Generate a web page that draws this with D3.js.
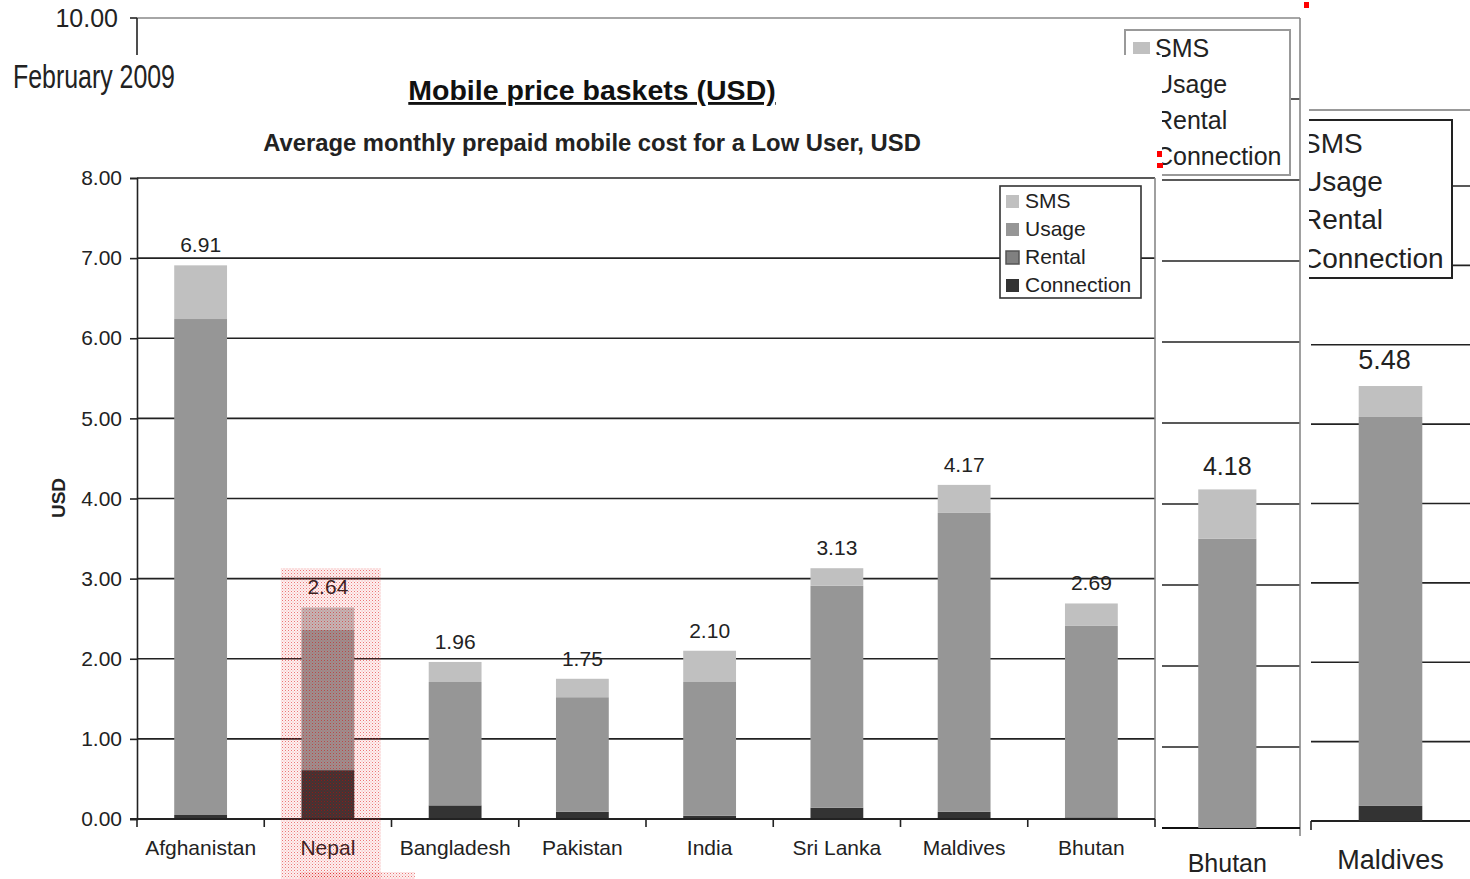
<!DOCTYPE html>
<html>
<head>
<meta charset="utf-8">
<script src="https://cdn.jsdelivr.net/npm/d3@7"></script>
<style>
  body { margin: 0; background: #fff; }
  svg { display: block; font-family: "Liberation Sans", Arial, sans-serif; }
</style>
</head>
<body>
<svg id="chart" width="1470" height="879"></svg>
<script>
// main chart data (USD per month)
var categories = ["Afghanistan", "Nepal", "Bangladesh", "Pakistan", "India", "Sri Lanka", "Maldives", "Bhutan"];
var connection = [0.05, 0.61, 0.17, 0.09, 0.04, 0.14, 0.09, 0.02];
var rental     = [0, 0, 0, 0, 0, 0, 0, 0];
var usage      = [6.19, 1.75, 1.54, 1.43, 1.67, 2.77, 3.73, 2.39];
var sms        = [0.67, 0.28, 0.25, 0.23, 0.39, 0.22, 0.35, 0.28];
var totalLabels = ["6.91", "2.64", "1.96", "1.75", "2.10", "3.13", "4.17", "2.69"];
var yTicks = [0, 1, 2, 3, 4, 5, 6, 7, 8];

// background chart (only Bhutan visible)
var bgCategories = ["Bhutan"];
var bgConnection = [0];
var bgUsage = [3.57];
var bgSms = [0.61];
var bgLabels = ["4.18"];
var bgTicks = [1, 2, 3, 4, 5, 6, 7, 8, 9, 10];

// right-hand panel (only Maldives visible)
var mvCategories = ["Maldives"];
var mvConnection = [0.19];
var mvUsage = [4.90];
var mvSms = [0.39];
var mvLabels = ["5.48"];
var mvTicks = [1, 2, 3, 4, 5, 6, 7, 8];

var seriesNames = ["SMS", "Usage", "Rental", "Connection"];
var colors = { SMS: "#c0c0c0", Usage: "#969696", Rental: "#808080", Connection: "#333333" };

var svg = d3.select("#chart");

function rows(cats, conn, rent, use, sm) {
	return cats.map(function(c, i) {
		return { cat: c, Connection: conn[i], Rental: rent ? rent[i] : 0, Usage: use[i], SMS: sm[i] };
	});
}
var stackKeys = ["Connection", "Rental", "Usage", "SMS"];

function drawBars(g, data, x, y, frac) {
	var stacked = d3.stack().keys(stackKeys)(data);
	var bw = x.step() * frac;
	g.selectAll("g.series").data(stacked).enter().append("g")
		.attr("fill", function(s) { return colors[s.key]; })
		.selectAll("rect").data(function(s) { return s; }).enter().append("rect")
		.attr("x", function(d) { return x(d.data.cat) + x.bandwidth() / 2 - bw / 2; })
		.attr("y", function(d) { return y(d[1]); })
		.attr("width", bw)
		.attr("height", function(d) { return Math.max(0, y(d[0]) - y(d[1])); });
}

/* ---------- background chart, 0..10 ---------- */
var bg = svg.append("g");
var yBg = d3.scaleLinear().domain([0, 10]).range([828, 18]);
var xBg = d3.scaleBand().domain(categories).range([137, 1300]).padding(0);

bg.selectAll("line.grid").data(bgTicks.slice(0, -1)).enter().append("line")
	.attr("x1", 137).attr("x2", 1300)
	.attr("y1", function(d) { return yBg(d); }).attr("y2", function(d) { return yBg(d); })
	.attr("stroke", "#222").attr("stroke-width", 1.6);
bg.append("line").attr("x1", 137).attr("x2", 1300).attr("y1", yBg(10)).attr("y2", yBg(10))
	.attr("stroke", "#888").attr("stroke-width", 1.6);
bg.append("line").attr("x1", 1300).attr("x2", 1300).attr("y1", yBg(10)).attr("y2", 836)
	.attr("stroke", "#888").attr("stroke-width", 1.6);
bg.append("line").attr("x1", 137).attr("x2", 1300).attr("y1", yBg(0)).attr("y2", yBg(0))
	.attr("stroke", "#111").attr("stroke-width", 2);
bg.append("line").attr("x1", 137).attr("x2", 137).attr("y1", yBg(10)).attr("y2", yBg(0))
	.attr("stroke", "#222").attr("stroke-width", 1.6);
bg.append("line").attr("x1", 130).attr("x2", 137).attr("y1", yBg(10)).attr("y2", yBg(10))
	.attr("stroke", "#222").attr("stroke-width", 1.6);
bg.append("text").attr("x", 118).attr("y", yBg(10)).attr("dy", "0.35em")
	.attr("text-anchor", "end").attr("font-size", 25).attr("fill", "#222").text("10.00");

drawBars(bg, rows(bgCategories, bgConnection, null, bgUsage, bgSms), xBg, yBg, 0.4);
bg.selectAll("text.val").data(bgCategories).enter().append("text")
	.attr("x", function(c) { return xBg(c) + xBg.bandwidth() / 2; })
	.attr("y", function(c, i) { return yBg(bgConnection[i] + bgUsage[i] + bgSms[i]) - 14; })
	.attr("text-anchor", "middle").attr("font-size", 25).attr("fill", "#222")
	.text(function(c, i) { return bgLabels[i]; });
bg.selectAll("text.cat").data(bgCategories).enter().append("text")
	.attr("x", function(c) { return xBg(c) + xBg.bandwidth() / 2; })
	.attr("y", 872).attr("text-anchor", "middle").attr("font-size", 25).attr("fill", "#222")
	.text(function(c) { return c; });

// background legend
var bgLeg = bg.append("g").attr("transform", "translate(1125,30)");
bgLeg.append("rect").attr("width", 165).attr("height", 145).attr("fill", "#fff")
	.attr("stroke", "#999").attr("stroke-width", 2);
seriesNames.forEach(function(n, i) {
	var row = bgLeg.append("g").attr("transform", "translate(0," + (18 + i * 36) + ")");
	row.append("rect").attr("x", 8).attr("y", -6).attr("width", 17).attr("height", 12).attr("fill", colors[n]);
	row.append("text").attr("x", 30).attr("dy", "0.35em").attr("font-size", 25).attr("fill", "#222").text(n);
});

/* ---------- main chart, drawn over the background ---------- */
svg.append("rect").attr("x", 0).attr("y", 55).attr("width", 1162).attr("height", 824).attr("fill", "#fff");

svg.append("text").attr("x", 13).attr("y", 88).attr("font-size", 33).attr("fill", "#222")
	.attr("transform", "translate(13,0) scale(0.755,1) translate(-13,0)")
	.text("February 2009");

var main = svg.append("g");
var y = d3.scaleLinear().domain([0, 8]).range([819, 178]);
var x = d3.scaleBand().domain(categories).range([137, 1155]).padding(0);

main.append("text").attr("x", 592).attr("y", 100).attr("text-anchor", "middle")
	.attr("font-size", 28.5).attr("font-weight", "bold").attr("fill", "#111")
	.attr("text-decoration", "underline").text("Mobile price baskets (USD)");
main.append("text").attr("x", 592).attr("y", 151).attr("text-anchor", "middle")
	.attr("font-size", 23.8).attr("font-weight", "bold").attr("fill", "#222")
	.text("Average monthly prepaid mobile cost for a Low User, USD");

main.selectAll("line.grid").data(yTicks.slice(1)).enter().append("line")
	.attr("x1", 137).attr("x2", 1155)
	.attr("y1", function(d) { return y(d); }).attr("y2", function(d) { return y(d); })
	.attr("stroke", "#222").attr("stroke-width", 1.6);
main.append("line").attr("x1", 1155).attr("x2", 1155).attr("y1", y(8)).attr("y2", y(0))
	.attr("stroke", "#888").attr("stroke-width", 1.6);

var yAxis = main.append("g").attr("transform", "translate(137,0)")
	.call(d3.axisLeft(y).tickValues(yTicks).tickFormat(d3.format(".2f")).tickSize(7).tickPadding(8));
yAxis.select(".domain").attr("stroke", "#222").attr("stroke-width", 1.6);
yAxis.selectAll(".tick line").attr("stroke", "#222").attr("stroke-width", 1.6);
yAxis.selectAll(".tick text").attr("font-size", 21).attr("fill", "#222")
	.attr("font-family", "Liberation Sans, Arial, sans-serif");

main.append("text").attr("transform", "translate(65,498) rotate(-90)")
	.attr("text-anchor", "middle").attr("font-size", 19).attr("font-weight", "bold")
	.attr("fill", "#222").text("USD");

drawBars(main, rows(categories, connection, rental, usage, sms), x, y, 0.415);

main.selectAll("text.val").data(categories).enter().append("text")
	.attr("x", function(c) { return x(c) + x.bandwidth() / 2; })
	.attr("y", function(c, i) { return y(connection[i] + rental[i] + usage[i] + sms[i]) - 13; })
	.attr("text-anchor", "middle").attr("font-size", 21).attr("fill", "#222")
	.text(function(c, i) { return totalLabels[i]; });

// x axis: ticks between categories
main.append("line").attr("x1", 130).attr("x2", 1155).attr("y1", y(0)).attr("y2", y(0))
	.attr("stroke", "#222").attr("stroke-width", 2);
main.selectAll("line.xtick").data(categories.concat(["end"])).enter().append("line")
	.attr("x1", function(c) { return c === "end" ? 1155 : x(c); })
	.attr("x2", function(c) { return c === "end" ? 1155 : x(c); })
	.attr("y1", y(0)).attr("y2", y(0) + 8)
	.attr("stroke", "#222").attr("stroke-width", 1.6);
main.selectAll("text.cat").data(categories).enter().append("text")
	.attr("x", function(c) { return x(c) + x.bandwidth() / 2; })
	.attr("y", 848).attr("dy", "0.35em").attr("text-anchor", "middle")
	.attr("font-size", 21).attr("fill", "#222").text(function(c) { return c; });

// legend
var leg = main.append("g").attr("transform", "translate(1000,186)");
leg.append("rect").attr("width", 141).attr("height", 112).attr("fill", "#fff")
	.attr("stroke", "#333").attr("stroke-width", 1.6);
seriesNames.forEach(function(n, i) {
	var row = leg.append("g").attr("transform", "translate(0," + (15 + i * 28) + ")");
	row.append("rect").attr("x", 6).attr("y", -6).attr("width", 13).attr("height", 13)
		.attr("fill", colors[n]).attr("stroke", n === "Rental" ? "#555" : "none").attr("stroke-width", 1.5);
	row.append("text").attr("x", 25).attr("dy", "0.35em").attr("font-size", 21).attr("fill", "#222").text(n);
});

// Nepal highlight (red dotted screen)
var defs = svg.append("defs");
var pat = defs.append("pattern").attr("id", "dots").attr("width", 3).attr("height", 3)
	.attr("patternUnits", "userSpaceOnUse");
pat.append("rect").attr("width", 3).attr("height", 3).attr("fill", "rgba(230,60,60,0.08)");
pat.append("rect").attr("width", 1).attr("height", 1).attr("fill", "rgba(220,0,0,0.5)");
pat.append("rect").attr("x", 1.5).attr("y", 1.5).attr("width", 1).attr("height", 1).attr("fill", "rgba(220,0,0,0.3)");
main.append("rect").attr("x", x("Nepal") + x.bandwidth() / 2 - 47).attr("y", 568)
	.attr("width", 100).attr("height", 311).attr("fill", "url(#dots)");
main.append("rect").attr("x", x("Nepal") + x.bandwidth() / 2 - 28).attr("y", 872)
	.attr("width", 115).attr("height", 7).attr("fill", "url(#dots)");

/* ---------- right-hand Maldives panel ---------- */
svg.append("rect").attr("x", 1305).attr("y", 110).attr("width", 165).attr("height", 769).attr("fill", "#fff");
defs.append("clipPath").attr("id", "mvclip").append("rect")
	.attr("x", 1309).attr("y", 100).attr("width", 170).attr("height", 779);
var mv = svg.append("g").attr("clip-path", "url(#mvclip)");
var yMv = d3.scaleLinear().domain([0, 8]).range([821, 186]);
var xMv = d3.scaleBand().domain(mvCategories).range([1311, 1470]).padding(0);

mv.append("line").attr("x1", 1305).attr("x2", 1470).attr("y1", 110).attr("y2", 110)
	.attr("stroke", "#999").attr("stroke-width", 2);
mv.selectAll("line.grid").data(mvTicks).enter().append("line")
	.attr("x1", 1311).attr("x2", 1470)
	.attr("y1", function(d) { return yMv(d); }).attr("y2", function(d) { return yMv(d); })
	.attr("stroke", "#222").attr("stroke-width", 1.6);
mv.append("line").attr("x1", 1311).attr("x2", 1470).attr("y1", yMv(0)).attr("y2", yMv(0))
	.attr("stroke", "#222").attr("stroke-width", 2);
mv.append("line").attr("x1", 1311).attr("x2", 1311).attr("y1", yMv(0)).attr("y2", yMv(0) + 9)
	.attr("stroke", "#222").attr("stroke-width", 1.6);

drawBars(mv, rows(mvCategories, mvConnection, null, mvUsage, mvSms), xMv, yMv, 0.4);
mv.selectAll("text.val").data(mvCategories).enter().append("text")
	.attr("x", function(c) { return xMv(c) + xMv.bandwidth() / 2 - 6; })
	.attr("y", function(c, i) { return yMv(mvConnection[i] + mvUsage[i] + mvSms[i]) - 17; })
	.attr("text-anchor", "middle").attr("font-size", 27).attr("fill", "#222")
	.text(function(c, i) { return mvLabels[i]; });
mv.selectAll("text.cat").data(mvCategories).enter().append("text")
	.attr("x", function(c) { return xMv(c) + xMv.bandwidth() / 2; })
	.attr("y", 860).attr("dy", "0.35em").attr("text-anchor", "middle")
	.attr("font-size", 27).attr("fill", "#222").text(function(c) { return c; });

var mvLeg = mv.append("g").attr("transform", "translate(1270,120)");
mvLeg.append("rect").attr("width", 182).attr("height", 158).attr("fill", "#fff")
	.attr("stroke", "#222").attr("stroke-width", 2);
seriesNames.forEach(function(n, i) {
	var row = mvLeg.append("g").attr("transform", "translate(0," + (23 + i * 38.3) + ")");
	row.append("rect").attr("x", 10).attr("y", -7).attr("width", 16).attr("height", 14).attr("fill", colors[n]);
	row.append("text").attr("x", 32).attr("dy", "0.35em").attr("font-size", 28).attr("fill", "#222").text(n);
});

// small red scan marks
svg.append("rect").attr("x", 1304).attr("y", 2).attr("width", 5).attr("height", 6).attr("fill", "#f00");
svg.append("rect").attr("x", 1157).attr("y", 151).attr("width", 5).attr("height", 6).attr("fill", "#f00");
svg.append("rect").attr("x", 1157).attr("y", 163).attr("width", 6).attr("height", 5).attr("fill", "#f00");
</script>
</body>
</html>
